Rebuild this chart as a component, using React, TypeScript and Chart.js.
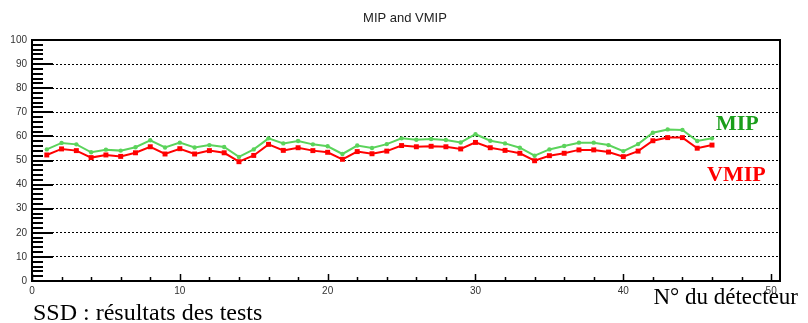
import { useEffect, useRef } from 'react';
import { Chart, registerables } from 'chart.js';

Chart.register(...registerables);

const detectors = [1, 2, 3, 4, 5, 6, 7, 8, 9, 10, 11, 12, 13, 14, 15, 16, 17, 18, 19, 20, 21, 22, 23, 24, 25, 26, 27, 28, 29, 30, 31, 32, 33, 34, 35, 36, 37, 38, 39, 40, 41, 42, 43, 44, 45, 46];
const mipValues = [54.6, 57.3, 56.7, 53.4, 54.5, 54.1, 55.5, 58.4, 55.4, 57.4, 55.4, 56.4, 55.6, 51.5, 54.6, 59.2, 57.1, 58.1, 56.7, 55.9, 52.7, 56.2, 55.2, 56.8, 59.2, 58.6, 58.9, 58.5, 57.5, 60.9, 58.2, 57.1, 55.3, 52.0, 54.6, 56.0, 57.4, 57.4, 56.4, 53.9, 56.8, 61.5, 62.9, 62.7, 58.1, 59.2];
const vmipValues = [52.3, 54.8, 54.1, 51.2, 52.3, 51.7, 53.2, 55.7, 52.7, 54.9, 52.7, 54.1, 53.2, 49.5, 52.1, 56.7, 54.2, 55.3, 54.1, 53.4, 50.5, 53.7, 52.8, 53.9, 56.2, 55.7, 55.9, 55.7, 54.8, 57.5, 55.3, 54.2, 53.0, 49.9, 52.0, 53.0, 54.4, 54.4, 53.5, 51.6, 53.9, 58.2, 59.5, 59.5, 55.1, 56.4];
const xTickValues = [0, 10, 20, 30, 40, 50];
const yTickValues = [0, 10, 20, 30, 40, 50, 60, 70, 80, 90, 100];
const titleText = 'MIP and VMIP';
const xAxisText = 'N° du détecteur';
const footerText = 'SSD : résultats des tests';
const mipLabel = 'MIP';
const vmipLabel = 'VMIP';

const framePlugin = {
  id: 'rootFrame',
  afterDraw(chart: any) {
    const { ctx, chartArea: a, scales } = chart;
    const x = scales.x;
    const y = scales.y;
    ctx.save();
    ctx.strokeStyle = '#000';
    ctx.lineWidth = 2;
    ctx.setLineDash([]);
    ctx.beginPath();
    for (let v = 0; v <= 100; v += 2) {
      const py = Math.round(y.getPixelForValue(v));
      const len = v % 10 === 0 ? 21 : 11;
      ctx.moveTo(a.left, py);
      ctx.lineTo(a.left + len, py);
    }
    ctx.stroke();
    ctx.lineWidth = 1.5;
    ctx.beginPath();
    for (let v = 0; v <= 50; v += 2) {
      const px = Math.round(x.getPixelForValue(v)) + 0.5;
      const len = v % 10 === 0 ? 7 : 4;
      ctx.moveTo(px, a.bottom);
      ctx.lineTo(px, a.bottom - len);
    }
    ctx.stroke();
    ctx.lineWidth = 2;
    ctx.strokeRect(a.left, a.top, a.right - a.left, a.bottom - a.top);

    ctx.textBaseline = 'middle';
    ctx.textAlign = 'center';
    ctx.fillStyle = '#222';
    ctx.font = '13px "Liberation Sans"';
    ctx.fillText(titleText, chart.width / 2 + 1, 18);

    ctx.textBaseline = 'alphabetic';
    ctx.font = 'bold 22px "Liberation Serif"';
    ctx.fillStyle = '#1a9e1a';
    ctx.textAlign = 'left';
    ctx.fillText(mipLabel, 716, 130);
    ctx.fillStyle = '#ff0000';
    ctx.fillText(vmipLabel, 707, 181);

    ctx.fillStyle = '#000';
    ctx.font = '23px "Liberation Serif"';
    ctx.textAlign = 'right';
    ctx.fillText(xAxisText, 798, 304);
    ctx.font = '24px "Liberation Serif"';
    ctx.textAlign = 'left';
    ctx.fillText(footerText, 33, 320);
    ctx.restore();
  },
};

export default function App() {
  const ref = useRef<HTMLCanvasElement | null>(null);
  useEffect(() => {
    if (!ref.current) return;
    const chart = new Chart(ref.current, {
      type: 'line',
      data: {
        datasets: [
          {
            label: 'MIP',
            data: detectors.map((d, i) => ({ x: d, y: mipValues[i] })),
            borderColor: '#5bd35b',
            backgroundColor: '#5bd35b',
            borderWidth: 2,
            pointStyle: 'circle',
            pointRadius: 2.2,
            pointBorderWidth: 0,
            tension: 0,
          },
          {
            label: 'VMIP',
            data: detectors.map((d, i) => ({ x: d, y: vmipValues[i] })),
            borderColor: '#ff0000',
            backgroundColor: '#ff0000',
            borderWidth: 2,
            pointStyle: 'rect',
            pointRadius: 3.5,
            pointBorderWidth: 0,
            tension: 0,
          },
        ],
      },
      options: {
        responsive: false,
        animation: false,
        layout: { padding: { left: 0, right: 28, top: 40, bottom: 0 } },
        plugins: {
          legend: { display: false },
          tooltip: { enabled: false },
          title: { display: false },
        },
        scales: {
          x: {
            type: 'linear',
            min: 0,
            max: 50.6,
            afterBuildTicks: (s: any) => {
              s.ticks = xTickValues.map((v) => ({ value: v }));
            },
            afterFit: (s: any) => {
              s.height = 42;
            },
            grid: { display: false, drawTicks: false },
            border: { display: false },
            ticks: {
              autoSkip: false,
              maxRotation: 0,
              padding: 4,
              color: '#333',
              font: { family: '"Liberation Sans"', size: 10 },
            },
          },
          y: {
            type: 'linear',
            min: 0,
            max: 100,
            afterBuildTicks: (s: any) => {
              s.ticks = yTickValues.map((v) => ({ value: v }));
            },
            afterFit: (s: any) => {
              s.width = 32;
            },
            grid: { display: true, color: '#000', lineWidth: 1, drawTicks: false },
            border: { display: false, dash: [2, 2] },
            ticks: {
              padding: 5,
              color: '#333',
              font: { family: '"Liberation Sans"', size: 10 },
            },
          },
        },
      },
      plugins: [framePlugin],
    });
    return () => chart.destroy();
  }, []);
  return (
    <div style={{ position: 'fixed', left: 0, top: 0, width: 808, height: 323, background: '#fff' }}>
      <canvas ref={ref} width={808} height={323} style={{ display: 'block' }} />
    </div>
  );
}
